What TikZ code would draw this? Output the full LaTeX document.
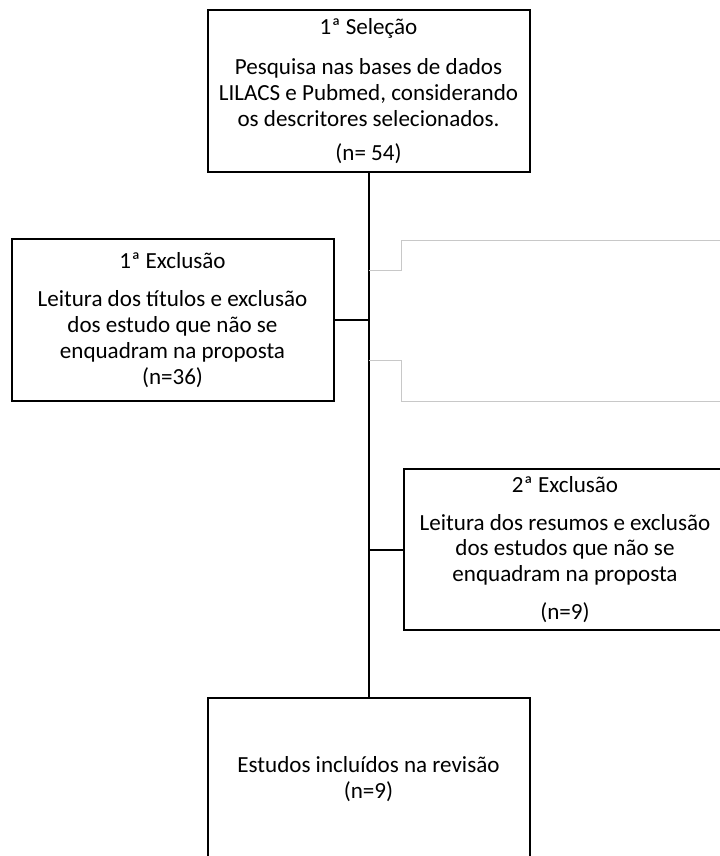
\documentclass[tikz,border=0pt]{standalone}
\usepackage{fontspec}
\setmainfont{Carlito}
\tikzset{every picture/.style={line width=0.75pt}}
\tikzset{
  stagebox/.style={draw, line width=1.5pt, minimum width=241.5pt, minimum height=121pt, align=center, inner sep=0pt, font=\fontsize{17.3}{19.4}\selectfont},
  trunk/.style={line width=1.5pt},
  faint/.style={draw={rgb,255:red,200;green,200;blue,200}, line width=0.75pt}
}
\begin{document}
\begin{tikzpicture}[x=0.75pt,y=0.75pt,yscale=-1,xscale=1]
\useasboundingbox (0,0) rectangle (720,856);
\clip (0,0) rectangle (720,856);
%Shape: Rectangle [id:sel]
\node[stagebox] (sel) at (368.5,91) {1ª Seleção\\[11pt]
  Pesquisa nas bases de dados\\ LILACS e Pubmed, considerando\\ os descritores selecionados.\\[6pt]
  (n= 54)};
%Shape: Rectangle [id:exc1]
\node[stagebox] (exc1) at (172.5,320) {1ª Exclusão\\[9pt]
  Leitura dos títulos e exclusão\\ dos estudo que não se\\ enquadram na proposta\\ (n=36)};
%Shape: Rectangle [id:exc2]
\node[stagebox] (exc2) at (565,549.5) {2ª Exclusão\\[9pt]
  Leitura dos resumos e exclusão\\ dos estudos que não se\\ enquadram na proposta\\[9pt] (n=9)};
%Shape: Rectangle [id:incl]
\node[stagebox] (incl) at (368.5,779) {Estudos incluídos na revisão\\ (n=9)};
%Straight Lines [id:trunk]
\draw[trunk] (sel.south) -- (sel.south |- incl.north);
\draw[trunk] (exc1.east) -- (sel.south |- exc1.east);
\draw[trunk] (exc2.west) -- (sel.south |- exc2.west);
%Straight Lines [id:gray]
\coordinate (gupper) at (401,270);
\coordinate (glower) at (401,360);
\draw[faint] (sel.south |- gupper) -- (gupper) -- (401,240) -- (722,240);
\draw[faint] (sel.south |- glower) -- (glower) -- (401,401) -- (722,401);
\end{tikzpicture}
\end{document}
